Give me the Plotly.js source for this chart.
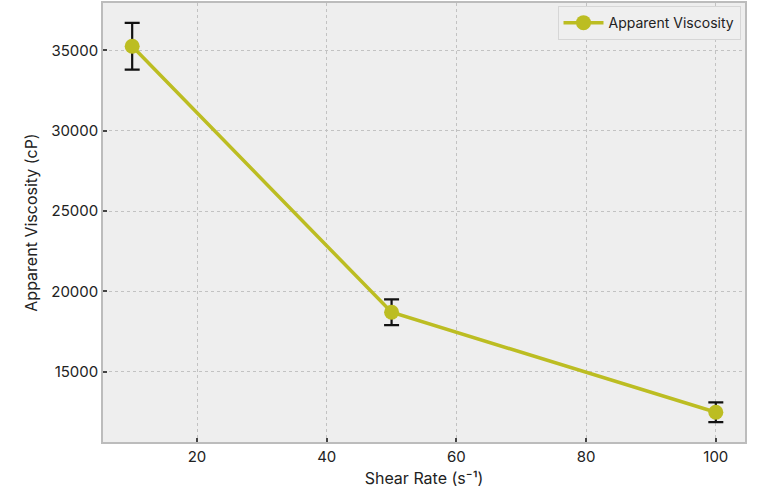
<!DOCTYPE html>
<html>
<head>
<meta charset="utf-8">
<script src="https://cdn.plot.ly/plotly-3.0.1.min.js"></script>
<style>
  html, body { margin: 0; padding: 0; background: #ffffff; }
  #chart { width: 761px; height: 504px; }
</style>
</head>
<body>
<div id="chart"></div>
<script>
// Datos
const shearRates = [10, 50, 100];
const viscosity = [35250, 18700, 12480];
const viscosityErr = [1450, 800, 610];

const xTicks = [20, 40, 60, 80, 100];
const yTicks = [15000, 20000, 25000, 30000, 35000];

const FONT = 'Inter, "Open Sans", sans-serif';

const trace = {
    x: shearRates,
    y: viscosity,
    type: 'scatter',
    mode: 'lines+markers',
    name: 'Apparent Viscosity',
    line: { color: '#bcbd22', width: 3.5 },
    marker: { color: '#bcbd22', size: 15 },
    error_y: {
        type: 'data',
        array: viscosityErr,
        visible: true,
        color: '#111111',
        thickness: 2.2,
        width: 7.5,
    },
};

const axisCommon = {
    showline: true,
    linecolor: '#bcbcbc',
    linewidth: 1.5,
    mirror: true,
    showgrid: true,
    gridcolor: '#c2c2c2',
    griddash: 'dot',
    gridwidth: 1,
    zeroline: false,
    ticks: 'inside',
    ticklen: 4,
    tickwidth: 1.5,
    tickcolor: '#444444',
    tickfont: { family: FONT, size: 15, color: '#222222' },
};

const layout = {
    width: 761,
    height: 504,
    paper_bgcolor: '#ffffff',
    plot_bgcolor: '#eeeeee',
    margin: { l: 103, r: 16, t: 3, b: 62 },
    font: { family: FONT, color: '#222222' },
    xaxis: {
        ...axisCommon,
        range: [5.5, 104.5],
        tickvals: xTicks,
        ticktext: xTicks.map(String),
        title: { text: 'Shear Rate (s⁻¹)', font: { family: FONT, size: 16 }, standoff: 8 },
    },
    yaxis: {
        ...axisCommon,
        range: [10630, 37940],
        tickvals: yTicks,
        ticktext: yTicks.map(String),
        title: { text: 'Apparent Viscosity (cP)', font: { family: FONT, size: 16 }, standoff: 10 },
    },
    showlegend: true,
    legend: {
        x: 0.993,
        y: 0.993,
        xanchor: 'right',
        yanchor: 'top',
        bgcolor: '#efefef',
        bordercolor: '#d6d6d6',
        borderwidth: 1,
        itemwidth: 40,
        font: { family: FONT, size: 14, color: '#222222' },
    },
};

Plotly.newPlot('chart', [trace], layout, { displayModeBar: false });
</script>
</body>
</html>
